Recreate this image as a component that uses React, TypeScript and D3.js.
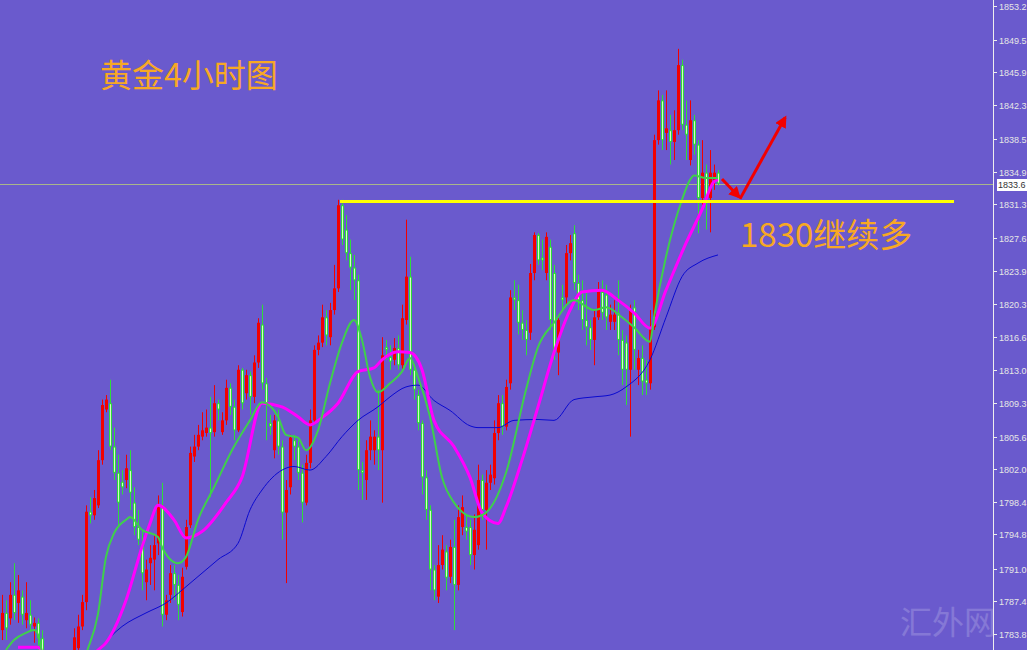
import React from 'react';
import * as d3 from 'd3';

// 4H gold candles: [open, high, low, close]
const candles: [number, number, number, number][] = [
  [1784.2, 1788.1, 1783.1, 1786.1], [1786.1, 1787.5, 1783.1, 1784.4], [1785.5, 1789.5, 1784.8, 1788.1],
  [1788.1, 1791.6, 1785.3, 1786.1], [1787.2, 1790.3, 1785.0, 1788.6], [1787.9, 1788.6, 1784.8, 1785.9],
  [1785.3, 1789.5, 1784.4, 1786.1], [1785.9, 1787.5, 1784.0, 1784.8], [1784.6, 1785.6, 1782.8, 1785.0],
  [1785.0, 1785.5, 1781.5, 1783.3], [1783.3, 1784.2, 1780.0, 1780.9], [1780.9, 1781.5, 1778.1, 1779.3],
  [1778.7, 1780.3, 1777.6, 1779.8], [1779.8, 1780.7, 1776.5, 1777.6], [1777.6, 1779.6, 1776.7, 1778.7],
  [1778.7, 1779.2, 1775.4, 1776.5], [1776.5, 1778.5, 1775.6, 1777.6], [1777.6, 1780.7, 1777.0, 1779.8],
  [1779.8, 1784.4, 1779.2, 1783.4], [1782.2, 1785.9, 1781.5, 1784.6], [1784.6, 1788.1, 1784.2, 1787.3],
  [1787.3, 1798.0, 1786.4, 1797.3], [1797.3, 1798.9, 1796.0, 1796.9], [1796.9, 1799.7, 1796.4, 1798.8],
  [1798.0, 1804.1, 1797.7, 1803.0], [1803.0, 1809.7, 1802.5, 1809.1], [1808.6, 1810.2, 1808.3, 1809.7],
  [1809.3, 1811.9, 1804.1, 1804.5], [1804.5, 1806.6, 1800.8, 1801.6], [1801.6, 1803.6, 1795.6, 1798.3],
  [1800.6, 1801.9, 1799.2, 1800.0], [1800.8, 1803.6, 1799.9, 1802.1], [1801.9, 1804.1, 1797.5, 1799.4],
  [1798.3, 1800.0, 1794.7, 1795.6], [1795.6, 1797.5, 1793.6, 1794.2], [1793.8, 1795.3, 1788.6, 1790.5],
  [1789.5, 1792.0, 1787.5, 1790.9], [1791.6, 1793.6, 1789.2, 1792.2], [1792.0, 1794.7, 1788.6, 1793.6],
  [1793.8, 1799.1, 1792.5, 1797.8], [1797.8, 1800.5, 1784.6, 1785.9], [1785.9, 1788.1, 1785.3, 1787.5],
  [1788.1, 1791.4, 1787.2, 1790.5], [1790.5, 1791.4, 1787.5, 1789.2], [1789.2, 1790.3, 1785.3, 1787.0],
  [1786.2, 1791.1, 1785.7, 1790.1], [1791.2, 1796.4, 1790.9, 1795.6], [1795.8, 1804.5, 1795.5, 1803.8],
  [1803.4, 1805.8, 1802.8, 1804.5], [1804.5, 1806.9, 1804.1, 1805.8], [1805.6, 1808.3, 1805.2, 1806.3],
  [1806.0, 1808.6, 1805.6, 1806.6], [1806.6, 1810.0, 1798.9, 1806.0], [1806.1, 1811.3, 1805.6, 1809.3],
  [1809.3, 1809.7, 1807.4, 1808.6], [1806.1, 1808.3, 1805.8, 1807.4], [1807.4, 1811.9, 1806.9, 1811.0],
  [1811.0, 1811.5, 1808.0, 1808.9], [1808.9, 1809.7, 1805.2, 1806.3], [1806.3, 1813.5, 1806.1, 1813.0],
  [1813.0, 1813.2, 1808.6, 1809.3], [1810.4, 1813.0, 1809.7, 1812.4], [1812.4, 1812.8, 1808.0, 1810.0],
  [1810.0, 1814.6, 1809.3, 1813.8], [1813.8, 1818.7, 1813.2, 1818.2], [1818.0, 1820.2, 1810.8, 1811.5],
  [1811.5, 1812.1, 1805.2, 1809.3], [1807.1, 1808.0, 1805.8, 1806.7], [1804.1, 1808.0, 1803.2, 1807.4],
  [1807.4, 1808.6, 1803.6, 1804.5], [1804.5, 1805.2, 1794.2, 1797.2], [1797.2, 1800.8, 1789.4, 1799.7],
  [1800.0, 1805.8, 1799.2, 1805.5], [1805.2, 1805.8, 1803.0, 1804.5], [1804.5, 1805.2, 1800.8, 1801.6],
  [1801.6, 1802.5, 1796.1, 1798.3], [1798.3, 1803.6, 1798.0, 1802.7], [1802.7, 1808.6, 1802.1, 1807.4],
  [1807.4, 1815.7, 1806.9, 1815.2], [1815.2, 1816.8, 1814.6, 1816.0], [1816.0, 1820.2, 1815.5, 1818.8],
  [1818.8, 1819.6, 1815.7, 1816.8], [1816.6, 1820.4, 1815.7, 1819.6], [1819.6, 1824.6, 1819.1, 1822.0],
  [1822.0, 1831.8, 1821.6, 1831.2], [1831.2, 1831.8, 1826.8, 1827.4], [1828.5, 1830.1, 1825.1, 1825.9],
  [1825.9, 1827.4, 1821.8, 1824.3], [1824.3, 1825.7, 1820.7, 1822.9], [1822.9, 1823.5, 1799.7, 1801.9],
  [1801.9, 1802.8, 1798.6, 1801.6], [1800.8, 1805.2, 1798.6, 1804.1], [1804.1, 1807.4, 1803.0, 1805.6],
  [1804.1, 1806.3, 1802.5, 1805.6], [1805.6, 1810.8, 1801.9, 1804.1], [1804.1, 1816.6, 1798.3, 1814.6],
  [1815.5, 1816.3, 1814.1, 1815.2], [1814.4, 1815.7, 1813.0, 1813.9], [1814.1, 1816.5, 1813.5, 1815.4],
  [1815.4, 1816.8, 1813.0, 1813.5], [1813.5, 1820.2, 1813.0, 1818.7], [1818.5, 1829.6, 1818.0, 1823.3],
  [1823.3, 1825.5, 1812.4, 1813.0], [1813.0, 1813.5, 1809.7, 1810.8], [1810.2, 1810.8, 1806.3, 1807.1],
  [1807.1, 1807.4, 1799.2, 1801.1], [1801.1, 1801.9, 1796.4, 1797.5], [1797.5, 1798.0, 1788.6, 1790.9],
  [1790.9, 1791.4, 1787.5, 1788.6], [1787.9, 1793.6, 1787.2, 1791.4], [1791.4, 1794.7, 1790.9, 1793.1],
  [1792.9, 1793.6, 1788.6, 1790.0], [1790.1, 1794.2, 1789.4, 1793.4], [1793.4, 1796.4, 1784.2, 1789.2],
  [1789.2, 1798.0, 1788.6, 1796.7], [1795.6, 1799.1, 1794.7, 1797.8], [1795.6, 1797.0, 1794.2, 1795.1],
  [1795.6, 1796.4, 1791.4, 1792.5], [1792.5, 1797.0, 1790.9, 1795.3], [1793.6, 1802.5, 1793.1, 1800.8],
  [1800.8, 1801.4, 1796.4, 1797.5], [1797.5, 1801.9, 1793.1, 1800.5], [1800.5, 1802.5, 1799.7, 1801.4],
  [1801.0, 1807.4, 1800.3, 1806.0], [1806.0, 1810.2, 1805.2, 1809.3], [1809.3, 1810.2, 1805.8, 1806.7],
  [1806.7, 1811.9, 1806.3, 1811.1], [1811.5, 1821.8, 1810.8, 1821.0], [1821.0, 1822.9, 1819.6, 1820.7],
  [1820.7, 1822.4, 1816.9, 1818.2], [1818.2, 1819.6, 1816.3, 1817.4], [1817.4, 1818.5, 1814.6, 1816.3],
  [1817.1, 1824.7, 1816.3, 1823.7], [1823.7, 1828.2, 1822.9, 1827.9], [1827.9, 1828.1, 1824.6, 1825.1],
  [1825.4, 1827.4, 1824.0, 1825.1], [1823.7, 1828.2, 1822.9, 1827.7], [1826.6, 1827.4, 1817.4, 1818.5],
  [1823.7, 1824.6, 1814.1, 1814.9], [1814.9, 1818.7, 1812.4, 1818.5], [1821.0, 1822.4, 1819.6, 1820.7],
  [1821.0, 1826.8, 1820.2, 1825.9], [1825.9, 1827.9, 1825.1, 1827.0], [1828.1, 1829.0, 1821.8, 1822.6],
  [1822.6, 1823.5, 1819.6, 1820.7], [1820.7, 1822.9, 1817.4, 1818.5], [1818.5, 1821.8, 1815.7, 1817.7],
  [1817.7, 1818.5, 1815.2, 1816.3], [1816.3, 1819.6, 1813.5, 1818.8], [1818.8, 1822.7, 1818.5, 1821.8],
  [1821.6, 1822.9, 1818.5, 1819.3], [1821.3, 1822.4, 1817.4, 1818.8], [1818.3, 1820.2, 1817.4, 1819.1],
  [1818.3, 1820.7, 1817.4, 1819.1], [1819.3, 1822.9, 1814.6, 1816.3], [1816.3, 1817.4, 1811.3, 1813.0],
  [1816.0, 1816.8, 1809.1, 1813.0], [1813.0, 1820.2, 1805.6, 1819.6], [1819.9, 1820.7, 1813.0, 1815.2],
  [1813.0, 1815.2, 1811.3, 1814.3], [1814.3, 1815.7, 1810.2, 1811.7], [1811.9, 1814.1, 1810.2, 1811.5],
  [1811.5, 1819.6, 1810.8, 1817.7], [1817.7, 1839.0, 1817.4, 1838.4], [1838.4, 1843.9, 1837.9, 1842.8],
  [1842.8, 1843.4, 1837.3, 1838.4], [1839.2, 1843.9, 1837.3, 1839.7], [1839.5, 1841.2, 1835.7, 1838.2],
  [1838.2, 1841.7, 1836.2, 1839.5], [1839.5, 1848.5, 1839.0, 1846.7], [1846.7, 1847.3, 1839.5, 1840.1],
  [1840.1, 1842.8, 1836.2, 1839.0], [1836.2, 1842.8, 1835.6, 1840.6], [1840.6, 1841.2, 1836.8, 1837.9],
  [1837.9, 1838.4, 1828.1, 1832.0], [1832.0, 1838.4, 1831.2, 1834.8], [1834.8, 1835.7, 1828.5, 1832.0],
  [1832.0, 1837.3, 1828.2, 1834.8], [1833.8, 1835.7, 1832.9, 1834.8], [1834.8, 1835.1, 1833.4, 1833.6],
];

// moving averages: [candle index, price]
const fastMA: [number, number][] = [
  [1, 1782.0], [3, 1783.1], [6, 1783.9], [8, 1784.2], [9, 1783.7], [10, 1781.8], [13, 1779.5], [17, 1779.0],
  [20, 1780.0], [21, 1781.5], [24, 1786.0], [26, 1792.3], [28, 1794.9], [31, 1796.4], [32, 1796.7], [35, 1795.3],
  [39, 1794.5], [40, 1793.4], [44, 1791.6], [46, 1792.3], [49, 1796.4], [53, 1800.0], [58, 1804.5], [62, 1807.4],
  [65, 1809.4], [69, 1807.8], [71, 1805.8], [74, 1805.5], [76, 1804.1], [79, 1806.3], [82, 1811.5], [85, 1816.0],
  [88, 1818.5], [90, 1816.3], [92, 1812.2], [94, 1810.5], [97, 1811.5], [100, 1812.8], [102, 1814.3], [104, 1812.2],
  [107, 1807.8], [110, 1801.1], [113, 1798.3], [118, 1796.7], [121, 1797.2], [126, 1801.6], [131, 1810.8],
  [134, 1815.5], [138, 1818.2], [143, 1820.7], [148, 1819.6], [151, 1819.9], [155, 1818.8], [158, 1817.7],
  [162, 1816.1], [163, 1818.8], [166, 1825.5], [170, 1831.8], [172, 1834.0], [173, 1834.5], [176, 1834.2], [179, 1834.2],
];
const midMA: [number, number][] = [
  [4, 1782.3], [9, 1782.3], [11, 1781.0], [19, 1779.0], [24, 1782.0], [26, 1782.8], [31, 1787.5], [35, 1793.4],
  [37, 1796.0], [39, 1798.0], [43, 1796.4], [46, 1794.4], [50, 1795.1], [56, 1798.3], [60, 1801.1], [65, 1809.3],
  [70, 1808.9], [74, 1807.8], [77, 1806.9], [80, 1807.7], [84, 1809.3], [89, 1812.8], [93, 1813.2], [95, 1814.1],
  [99, 1815.0], [102, 1814.9], [105, 1813.0], [108, 1807.4], [113, 1804.5], [117, 1801.1], [120, 1797.2],
  [124, 1796.0], [126, 1797.8], [130, 1803.0], [134, 1808.9], [138, 1814.9], [142, 1819.6], [145, 1821.6],
  [150, 1821.8], [154, 1820.7], [158, 1819.3], [162, 1817.6], [166, 1821.8], [171, 1827.0], [175, 1830.7],
  [178, 1833.8], [179, 1834.0],
];
const slowMA: [number, number][] = [
  [18, 1778.0], [20, 1780.0], [24, 1782.0], [30, 1784.6], [36, 1786.1], [41, 1787.2], [46, 1789.0], [54, 1792.0],
  [59, 1793.8], [62, 1797.5], [65, 1799.7], [70, 1801.9], [73, 1802.3], [77, 1801.9], [81, 1803.4], [85, 1805.6],
  [89, 1807.4], [94, 1808.9], [97, 1810.0], [101, 1811.1], [104, 1811.3], [108, 1809.6], [112, 1808.5],
  [117, 1806.8], [119, 1806.6], [124, 1806.6], [128, 1807.4], [134, 1807.5], [138, 1807.4], [143, 1809.7],
  [148, 1810.0], [152, 1810.2], [156, 1811.1], [162, 1814.1], [166, 1818.8], [170, 1823.3], [174, 1824.8],
  [179, 1825.7],
];

const priceTicks = [
  '1853.2', '1849.5', '1845.9', '1842.3', '1838.5', '1834.9', '1831.3', '1827.6', '1823.9', '1820.3',
  '1816.6', '1813.0', '1809.3', '1805.6', '1802.0', '1798.4', '1794.8', '1791.0', '1787.4', '1783.8',
];
const lastPrice = 1833.6;
const supportLevel = 1831.6;
// yellow support line runs from candle index to index (extends into the empty right side)
const supportSpan = [84.5, 238];
// hand-drawn arrows: [index, price] points
const arrowDown = [[180, 1834.1], [184.3, 1832.1]];
const arrowUp = [[184.5, 1831.9], [195.8, 1840.9]];
const titleText = '黄金4小时图';
const noteText = '1830继续多';

const W = 1027;
const H = 650;
const axisX = 993;

const App: React.FC = () => {
  const x = d3.scaleLinear().domain([0, candles.length - 1]).range([2, 718]);
  const y = d3.scaleLinear().domain([1782.0, 1853.9]).range([H, 0]);

  const maLine = d3
    .line<[number, number]>()
    .x((d) => x(d[0]))
    .y((d) => y(d[1]))
    .curve(d3.curveMonotoneX);

  const red = '#f20000';
  const green = '#2fdc3a';

  return (
    <svg width={W} height={H} style={{ position: 'absolute', left: 0, top: 0 }}>
      <defs>
        <clipPath id="plot">
          <rect x={0} y={0} width={axisX} height={H} />
        </clipPath>
        <marker id="head" viewBox="0 0 10 10" refX="8" refY="5" markerWidth="4" markerHeight="4" orient="auto">
          <path d="M0,0 L10,5 L0,10 z" fill={red} />
        </marker>
      </defs>
      <rect width={W} height={H} fill="#6a5acd" />

      <g clipPath="url(#plot)">
        {/* current price line */}
        <line x1={0} x2={axisX} y1={Math.round(y(lastPrice)) + 0.5} y2={Math.round(y(lastPrice)) + 0.5}
          stroke="#a9b68a" strokeWidth={1} />

        {candles.map(([o, h, l, c], i) => {
          const cx = Math.round(x(i));
          const up = c >= o;
          const col = up ? red : green;
          const top = y(Math.max(o, c));
          const bot = y(Math.min(o, c));
          const bh = Math.max(1, bot - top);
          return (
            <g key={i}>
              <line x1={cx + 0.5} x2={cx + 0.5} y1={y(h)} y2={y(l)} stroke={col} strokeWidth={1} />
              <rect x={cx - 1} y={top} width={3} height={bh} fill={col} />
              {!up && bh > 2 && (
                <rect x={cx} y={top + 1} width={1} height={bh - 2} fill="#d8fbc8" />
              )}
            </g>
          );
        })}

        <path d={maLine(slowMA) ?? ''} fill="none" stroke="#0a0ad0" strokeWidth={1} />
        <path d={maLine(midMA) ?? ''} fill="none" stroke="#ff00ff" strokeWidth={3} />
        <path d={maLine(fastMA) ?? ''} fill="none" stroke="#3fcf4c" strokeWidth={2} />

        <line x1={x(supportSpan[0])} x2={x(supportSpan[1])} y1={y(supportLevel)} y2={y(supportLevel)}
          stroke="#ffff00" strokeWidth={3} />

        <line x1={x(arrowDown[0][0])} y1={y(arrowDown[0][1])} x2={x(arrowDown[1][0])} y2={y(arrowDown[1][1])}
          stroke={red} strokeWidth={3} markerEnd="url(#head)" />
        <line x1={x(arrowUp[0][0])} y1={y(arrowUp[0][1])} x2={x(arrowUp[1][0])} y2={y(arrowUp[1][1])}
          stroke={red} strokeWidth={3} markerEnd="url(#head)" />
      </g>

      <text x={100} y={87} fontFamily="'Noto Sans CJK SC', sans-serif" fontSize={32} fill="#f7a824">
        {titleText}
      </text>
      <text x={740} y={247} fontFamily="'Noto Sans CJK SC', sans-serif" fontSize={33} fill="#f7a824">
        {noteText}
      </text>

      {/* watermark */}
      <text x={900} y={634} fontFamily="'Noto Sans CJK SC', serif" fontSize={32} fill="#ffffff" opacity={0.18}>
        汇外网
      </text>

      {/* price axis */}
      <line x1={axisX + 0.5} x2={axisX + 0.5} y1={0} y2={H} stroke="#eeeeee" strokeWidth={1} />
      {priceTicks.map((t) => {
        const ty = Math.round(y(+t)) + 0.5;
        return (
          <g key={t}>
            <line x1={axisX} x2={axisX + 4} y1={ty} y2={ty} stroke="#eeeeee" />
            <text x={999} y={ty} dy="0.35em" fontFamily="'Liberation Sans', sans-serif" fontSize={9} fill="#e6e6e6">
              {t}
            </text>
          </g>
        );
      })}
      <rect x={997} y={Math.round(y(lastPrice)) - 5} width={30} height={12} fill="#ffffff" />
      <text x={998} y={Math.round(y(lastPrice)) + 1} dy="0.35em" fontFamily="'Liberation Sans', sans-serif"
        fontSize={9} fill="#333333">
        {lastPrice.toFixed(1)}
      </text>
    </svg>
  );
};

export default App;
